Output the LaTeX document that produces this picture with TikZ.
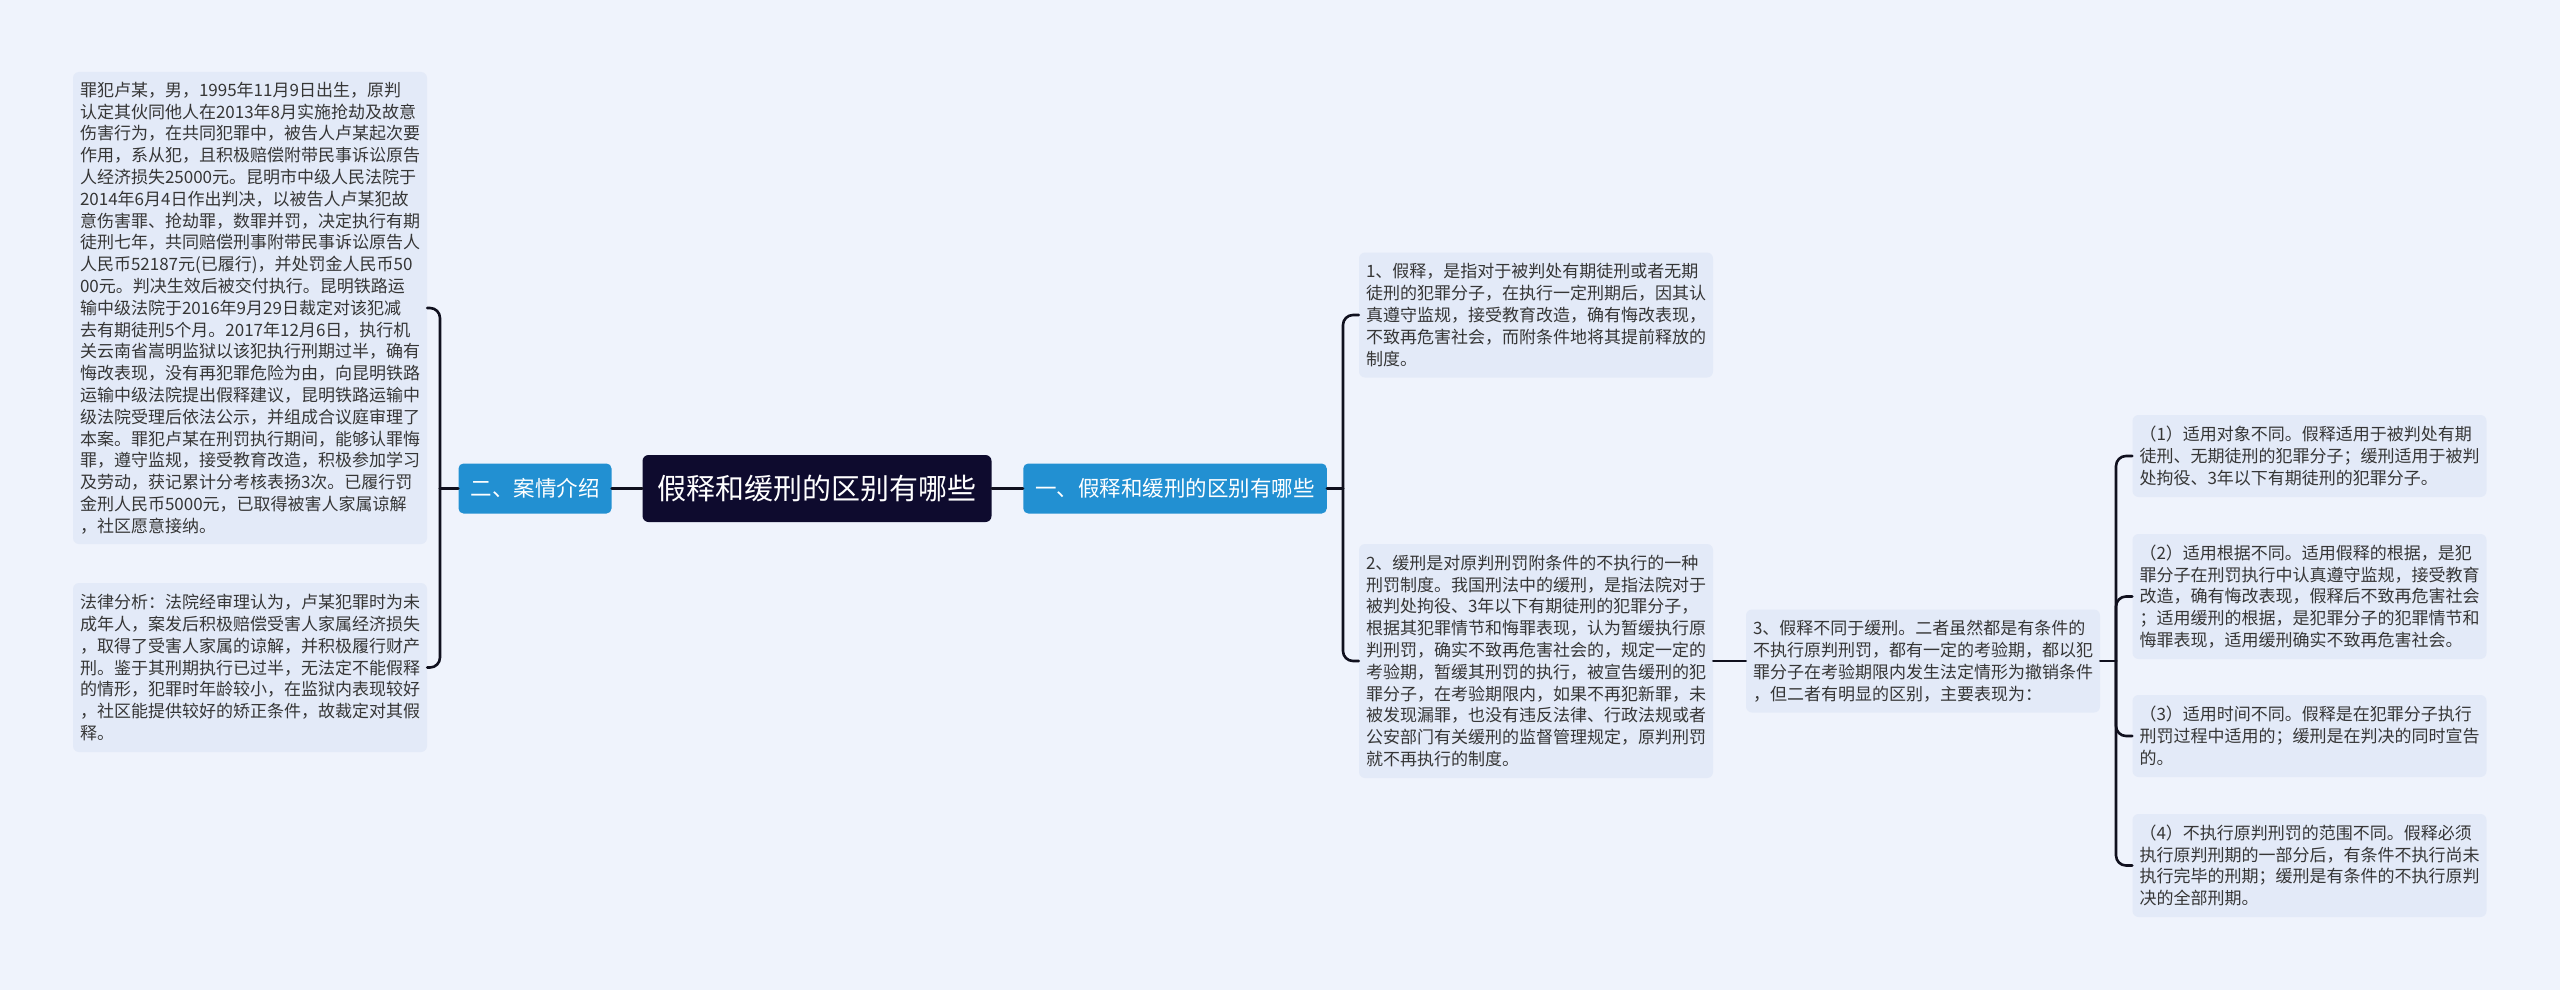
\documentclass[tikz,border=0pt]{standalone}
\usepackage{fontspec}
\setmainfont{Noto Sans CJK SC}
\definecolor{bg}{HTML}{EFF3FC}
\definecolor{boxfill}{HTML}{E3EAF8}
\definecolor{topicblue}{HTML}{2290D2}
\definecolor{rootnavy}{HTML}{0E0B2E}
\definecolor{linecol}{HTML}{10101E}
\definecolor{textcol}{HTML}{363636}
\begin{document}
\begin{tikzpicture}[x=1pt,y=-1pt,
  box/.style={fill=boxfill, rounded corners=6pt, align=left, inner sep=0pt,
    font=\fontsize{17}{21.8}\selectfont, text=textcol, minimum width=354pt},
  topic/.style={fill=topicblue, rounded corners=5pt, text=white,
    font=\fontsize{21.5}{24}\selectfont, minimum height=50pt, inner xsep=12pt, inner ysep=0pt},
  rootbox/.style={fill=rootnavy, rounded corners=6pt, text=white,
    font=\fontsize{29}{32}\selectfont, minimum height=67pt, inner xsep=15pt, inner ysep=0pt},
  conn/.style={draw=linecol, line width=2.6pt, rounded corners=10pt, line cap=round}]
\useasboundingbox (0,0) rectangle (2560,990);
\fill[bg] (0,0) rectangle (2560,990);

% left boxes
\node[box, minimum height=472pt] (L1) at (250,308) {罪犯卢某，男，1995年11月9日出生，原判\\
认定其伙同他人在2013年8月实施抢劫及故意\\
伤害行为，在共同犯罪中，被告人卢某起次要\\
作用，系从犯，且积极赔偿附带民事诉讼原告\\
人经济损失25000元。昆明市中级人民法院于\\
2014年6月4日作出判决，以被告人卢某犯故\\
意伤害罪、抢劫罪，数罪并罚，决定执行有期\\
徒刑七年，共同赔偿刑事附带民事诉讼原告人\\
人民币52187元(已履行)，并处罚金人民币50\\
00元。判决生效后被交付执行。昆明铁路运\\
输中级法院于2016年9月29日裁定对该犯减\\
去有期徒刑5个月。2017年12月6日，执行机\\
关云南省嵩明监狱以该犯执行刑期过半，确有\\
悔改表现，没有再犯罪危险为由，向昆明铁路\\
运输中级法院提出假释建议，昆明铁路运输中\\
级法院受理后依法公示，并组成合议庭审理了\\
本案。罪犯卢某在刑罚执行期间，能够认罪悔\\
罪，遵守监规，接受教育改造，积极参加学习\\
及劳动，获记累计分考核表扬3次。已履行罚\\
金刑人民币5000元，已取得被害人家属谅解\\
，社区愿意接纳。};

\node[box, minimum height=169pt] (L2) at (250,667.5) {法律分析：法院经审理认为，卢某犯罪时为未\\
成年人，案发后积极赔偿受害人家属经济损失\\
，取得了受害人家属的谅解，并积极履行财产\\
刑。鉴于其刑期执行已过半，无法定不能假释\\
的情形，犯罪时年龄较小，在监狱内表现较好\\
，社区能提供较好的矫正条件，故裁定对其假\\
释。};

% central nodes
\node[topic] (er) at (535,488.5) {二、案情介绍};
\node[rootbox] (root) at (817,488.5) {假释和缓刑的区别有哪些};
\node[topic] (yi) at (1175,488.5) {一、假释和缓刑的区别有哪些};

% right column 1
\node[box, minimum height=125pt] (R1) at (1536,315) {1、假释，是指对于被判处有期徒刑或者无期\\
徒刑的犯罪分子，在执行一定刑期后，因其认\\
真遵守监规，接受教育改造，确有悔改表现，\\
不致再危害社会，而附条件地将其提前释放的\\
制度。};

\node[box, minimum height=234pt] (R2) at (1536,661) {2、缓刑是对原判刑罚附条件的不执行的一种\\
刑罚制度。我国刑法中的缓刑，是指法院对于\\
被判处拘役、3年以下有期徒刑的犯罪分子，\\
根据其犯罪情节和悔罪表现，认为暂缓执行原\\
判刑罚，确实不致再危害社会的，规定一定的\\
考验期，暂缓其刑罚的执行，被宣告缓刑的犯\\
罪分子，在考验期限内，如果不再犯新罪，未\\
被发现漏罪，也没有违反法律、行政法规或者\\
公安部门有关缓刑的监督管理规定，原判刑罚\\
就不再执行的制度。};

\node[box, minimum height=103pt] (R3) at (1923,661) {3、假释不同于缓刑。二者虽然都是有条件的\\
不执行原判刑罚，都有一定的考验期，都以犯\\
罪分子在考验期限内发生法定情形为撤销条件\\
，但二者有明显的区别，主要表现为：};

% far right column
\node[box, minimum height=82pt] (S1) at (2309.5,456) {（1）适用对象不同。假释适用于被判处有期\\
徒刑、无期徒刑的犯罪分子；缓刑适用于被判\\
处拘役、3年以下有期徒刑的犯罪分子。};

\node[box, minimum height=125pt] (S2) at (2309.5,596.5) {（2）适用根据不同。适用假释的根据，是犯\\
罪分子在刑罚执行中认真遵守监规，接受教育\\
改造，确有悔改表现，假释后不致再危害社会\\
；适用缓刑的根据，是犯罪分子的犯罪情节和\\
悔罪表现，适用缓刑确实不致再危害社会。};

\node[box, minimum height=82pt] (S3) at (2309.5,736) {（3）适用时间不同。假释是在犯罪分子执行\\
刑罚过程中适用的；缓刑是在判决的同时宣告\\
的。};

\node[box, minimum height=103pt] (S4) at (2309.5,865.5) {（4）不执行原判刑罚的范围不同。假释必须\\
执行原判刑期的一部分后，有条件不执行尚未\\
执行完毕的刑期；缓刑是有条件的不执行原判\\
决的全部刑期。};

% trunk coordinates
\coordinate (tl) at (440,488.5);
\coordinate (tr) at (1343,488.5);
\coordinate (tr2) at (2116,661);

% connectors
\draw[conn] (root.west) -- (er.east);
\draw[conn] (root.east) -- (yi.west);
\draw[conn] (er.west) -- (tl);
\draw[conn] (tl) |- (L1.east);
\draw[conn] (tl) |- (L2.east);
\draw[conn] (yi.east) -- (tr);
\draw[conn] (tr) |- (R1.west);
\draw[conn] (tr) |- (R2.west);
\draw[conn] (R2.east) -- (R3.west);
\draw[conn] (R3.east) -- (tr2);
\draw[conn] (tr2) |- (S1.west);
\draw[conn] (tr2) |- (S2.west);
\draw[conn] (tr2) |- (S3.west);
\draw[conn] (tr2) |- (S4.west);
\end{tikzpicture}
\end{document}
